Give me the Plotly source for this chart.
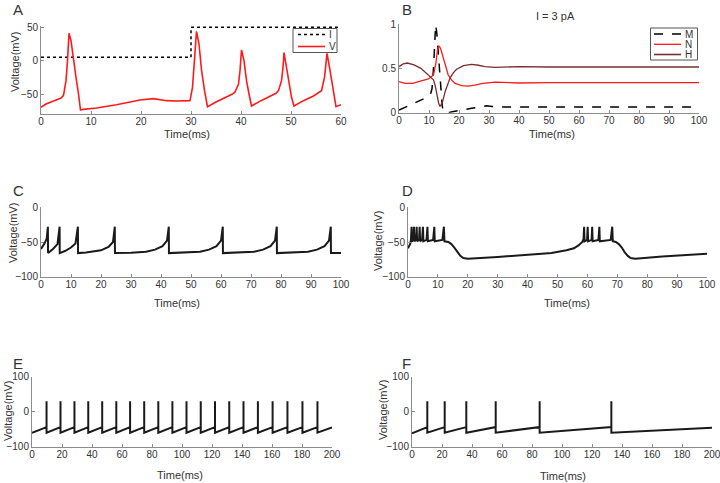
import plotly.graph_objects as go

# ---------------- Panel A data ----------------
A_I_t = [0, 30, 30, 60]
A_I_v = [5, 5, 50, 50]
A_V_t = [0, 1, 2, 3, 4, 4.5, 5.0, 5.3, 5.6, 6.0, 6.5, 7.0, 7.5, 7.9, 8.5, 11.1, 15.1, 19.8, 22.5, 25.1, 27.1,
         29.8, 30.3, 30.7, 31.1, 31.6, 32.1, 32.7, 33.3, 35, 37, 38.3, 38.8, 39.5, 39.8, 40.1, 40.6, 41.1, 41.6, 42.1,
         44, 46, 47.0, 47.5, 48.1, 48.4, 48.6, 49.1, 49.6, 50.1, 50.6,
         52.5, 54.5, 55.6, 56.1, 56.7, 57.0, 57.2, 57.7, 58.2, 58.6, 59.0, 60]
A_V_v = [-70, -65, -62, -59, -56, -52, -30, 0, 41, 30, 0, -25, -50, -74, -73, -71, -66, -59, -57, -60, -60.5,
         -60, -40, 10, 44, 25, -14, -45, -69, -62, -55, -50, -47, -35, -15, 16, 0, -30, -50, -68,
         -60, -53, -49, -45, -30, -10, 12, -10, -35, -55, -68,
         -60, -53, -48, -45, -25, -5, 11, -10, -35, -55, -69, -66]

# ---------------- Panel B data ----------------
B_M_t = [0, 2, 4, 6, 8, 9.8, 10.5, 11.0, 11.5, 12.2, 12.6, 13.1, 13.6, 14.0, 14.4, 14.8, 15.5, 17, 19, 21, 24.2, 27, 29.2, 31, 34, 40, 50, 60, 70, 80, 90, 100]
B_M_v = [0.03, 0.06, 0.09, 0.12, 0.15, 0.18, 0.21, 0.27, 0.5, 0.99, 0.9, 0.65, 0.4, 0.2, 0.08, 0.01, 0.0, 0.005, 0.015, 0.03, 0.05, 0.07, 0.078, 0.07, 0.065, 0.064, 0.064, 0.064, 0.064, 0.064, 0.064, 0.064]
B_N_t = [0, 2, 4.5, 7, 9.8, 11.5, 12.3, 12.8, 13.3, 13.9, 14.8, 15.6, 16.4, 17.5, 18.7, 20.9, 23, 25.3, 28, 32, 36, 40, 50, 60, 70, 80, 90, 100]
B_N_v = [0.35, 0.33, 0.33, 0.35, 0.38, 0.425, 0.56, 0.70, 0.755, 0.72, 0.61, 0.51, 0.425, 0.37, 0.33, 0.305, 0.30, 0.31, 0.33, 0.345, 0.34, 0.335, 0.34, 0.34, 0.34, 0.34, 0.34, 0.34]
B_H_t = [0, 1.4, 2.8, 5, 7.3, 9.8, 11.5, 12.1, 12.6, 13.2, 13.7, 14.5, 15.4, 16.2, 17.0, 18.1, 19.2, 21.5, 24.2, 26.5, 28.6, 32, 36, 40, 50, 60, 70, 80, 90, 100]
B_H_v = [0.52, 0.55, 0.56, 0.54, 0.5, 0.425, 0.37, 0.3, 0.2, 0.11, 0.07, 0.12, 0.24, 0.32, 0.39, 0.45, 0.49, 0.53, 0.545, 0.535, 0.52, 0.51, 0.515, 0.52, 0.515, 0.515, 0.515, 0.515, 0.515, 0.515]

# ---------------- Panel C data ----------------
C_t = [0, 1.2, 1.9, 2.3, 2.35, 4.0, 5.5, 6.2, 6.25, 8, 10, 11.5, 12.3, 12.35,
       15, 20, 22.5, 24.0, 24.6, 24.65,
       30, 35, 38, 40.5, 42.0, 42.6, 42.65,
       48, 53, 56, 58.5, 60.0, 60.6, 60.65,
       66, 71, 74, 76.5, 78.0, 78.6, 78.65,
       84, 89, 92, 94.5, 96.0, 96.6, 96.65, 100]
C_v = [-60, -52, -45, -28, -66, -60, -53, -28, -66, -63, -58, -52, -28, -66,
       -65, -62, -57, -50, -28, -66,
       -65.5, -64, -61, -56, -48, -28, -66,
       -65.5, -64, -61, -56, -48, -28, -66,
       -65.5, -64, -61, -56, -48, -28, -66,
       -65.5, -64, -61, -56, -48, -28, -66, -66]

# ---------------- Panel D data ----------------
D_t = [0, 0.8, 1.0, 1.2, 1.35, 1.8, 2.0, 2.15, 2.7, 2.9, 3.05, 3.7, 3.9, 4.05, 4.7, 5.0, 5.15,
       6.2, 6.5, 6.65, 8.4, 8.8, 8.95, 11.5, 12.0, 12.2,
       13.5, 14.5, 15.5, 16.5, 17.5, 18.5, 20, 30, 40, 48, 53, 55.5, 57, 58.3, 58.7, 58.9, 59.05,
       59.9, 60.1, 60.25, 61.4, 61.6, 61.75, 63.7, 64.0, 64.15, 67.8, 68.3, 68.5,
       69.5, 70.5, 71.5, 72.5, 73.5, 74.5, 76, 85, 100]
D_v = [-59, -52, -46, -28, -49, -47, -28, -49, -47, -28, -49, -47, -28, -49, -47, -28, -49,
       -47, -28, -49, -47, -28, -49, -47, -28, -49,
       -50, -53, -58, -65, -70, -73, -74, -71.5, -69, -66, -62, -59, -55, -50, -46, -28, -49,
       -47, -28, -49, -47, -28, -49, -47, -28, -49, -47, -28, -49,
       -50, -53, -58, -65, -70, -73, -74, -71, -67]

# ---------------- Panel E / F data ----------------
E_spikes = [9.7, 19.0, 28.3, 37.5, 46.8, 56.2, 65.4, 74.8, 84.2, 93.6, 103.0, 112.5, 122.0, 131.5,
            141.0, 150.6, 160.4, 170.3, 180.3, 190.3]
E_start = (0, -60)
E_end = (200, -45)
F_spikes = [10.2, 21.8, 36.2, 55.8, 85.1, 132.9]
F_start = (0, -62)
F_end = (200, -46)
SPIKE_PRE, SPIKE_PEAK, SPIKE_RESET = -44, 30, -60

X_TICKS_60 = [0, 10, 20, 30, 40, 50, 60]
X_TICKS_100 = [0, 10, 20, 30, 40, 50, 60, 70, 80, 90, 100]
X_TICKS_200 = [0, 20, 40, 60, 80, 100, 120, 140, 160, 180, 200]

LEGEND_A = ["I", "V"]
LEGEND_B = ["M", "N", "H"]


def spike_train(spikes, start, end):
    t, v = [start[0]], [start[1]]
    for s in spikes:
        t += [s, s, s]
        v += [SPIKE_PRE, SPIKE_PEAK, SPIKE_RESET]
    t.append(end[0]); v.append(end[1])
    return t, v


E_t, E_v = spike_train(E_spikes, E_start, E_end)
F_t, F_v = spike_train(F_spikes, F_start, F_end)

W, H = 720, 483
FONT = "Liberation Sans, Arial, sans-serif"
NARROW = "Liberation Sans Narrow, Arial Narrow, Liberation Sans, Arial, sans-serif"
AXC = "#8c8c8c"
TXT = "#333333"
RED = "#ff1a1a"
BROWN = "#7a2e2e"
BLK = "#1a1a1a"


def px(x):
    return x / W


def py(y):
    return 1 - y / H


def xax(dom, rng, ticks, anchor, font=FONT):
    return dict(domain=dom, range=rng, tickvals=ticks, ticks="inside", ticklen=3, tickcolor=AXC,
                showline=True, linecolor=AXC, linewidth=1, showgrid=False, zeroline=False,
                ticklabelstandoff=-2, automargin=False, ticklabeloverflow="allow",
                tickfont=dict(family=font, size=10, color=TXT), anchor=anchor, fixedrange=True)


def yax(dom, rng, ticks, anchor, font=FONT, ticktext=None):
    d = dict(domain=dom, range=rng, tickvals=ticks, ticks="inside", ticklen=3, tickcolor=AXC,
             showline=True, linecolor=AXC, linewidth=1, showgrid=False, zeroline=False, automargin=False,
             ticklabeloverflow="allow",
             tickfont=dict(family=font, size=10, color=TXT), anchor=anchor, fixedrange=True)
    if ticktext:
        d["ticktext"] = ticktext
    return d


fig = go.Figure()
fig.add_trace(go.Scatter(x=A_I_t, y=A_I_v, mode="lines", name="I", line=dict(color="black", width=1.5, dash="dot"),
                         xaxis="x", yaxis="y", showlegend=False))
fig.add_trace(go.Scatter(x=A_V_t, y=A_V_v, mode="lines", name="V", line=dict(color=RED, width=1.6),
                         xaxis="x", yaxis="y", showlegend=False))
fig.add_trace(go.Scatter(x=B_M_t, y=B_M_v, mode="lines", name="M", line=dict(color="black", width=1.5, dash="dash"),
                         xaxis="x2", yaxis="y2", showlegend=False))
fig.add_trace(go.Scatter(x=B_N_t, y=B_N_v, mode="lines", name="N", line=dict(color=RED, width=1.3),
                         xaxis="x2", yaxis="y2", showlegend=False))
fig.add_trace(go.Scatter(x=B_H_t, y=B_H_v, mode="lines", name="H", line=dict(color=BROWN, width=1.3),
                         xaxis="x2", yaxis="y2", showlegend=False))
for xa, ya, t, v in [("x3", "y3", C_t, C_v), ("x4", "y4", D_t, D_v), ("x5", "y5", E_t, E_v), ("x6", "y6", F_t, F_v)]:
    fig.add_trace(go.Scatter(x=t, y=v, mode="lines", line=dict(color=BLK, width=2), showlegend=False,
                             xaxis=xa, yaxis=ya))

fig.update_layout(
    width=W, height=H, autosize=False, margin=dict(l=0, r=0, t=0, b=0, autoexpand=False),
    paper_bgcolor="white", plot_bgcolor="white", showlegend=False,
    font=dict(family=FONT, color=TXT),
    xaxis=xax([px(41), px(341)], [0, 60], X_TICKS_60, "y"),
    yaxis=yax([py(114), py(26)], [-80, 52], [-50, 0, 50], "x"),
    xaxis2=xax([px(399), px(699)], [0, 100], X_TICKS_100, "y2"),
    yaxis2=yax([py(112.7), py(24)], [0, 1], [0, 0.5, 1], "x2", ticktext=["0", "0.5", "1"]),
    xaxis3=xax([px(41), px(341)], [0, 100], X_TICKS_100, "y3"),
    yaxis3=yax([py(276.7), py(207.3)], [-100, 0], [-100, -50, 0], "x3"),
    xaxis4=xax([px(408), px(707)], [0, 100], X_TICKS_100, "y4"),
    yaxis4=yax([py(276.7), py(207.3)], [-100, 0], [-100, -50, 0], "x4"),
    xaxis5=xax([px(32), px(332)], [0, 200], X_TICKS_200, "y5", font=NARROW),
    yaxis5=yax([py(446.7), py(376.7)], [-100, 100], [-100, 0, 100], "x5", font=NARROW),
    xaxis6=xax([px(412), px(712)], [0, 200], X_TICKS_200, "y6", font=NARROW),
    yaxis6=yax([py(446.7), py(376.7)], [-100, 100], [-100, 0, 100], "x6", font=NARROW),
)

ann = []
shapes = []


def text(x, y, s, size=11, angle=0, anchor="center"):
    ann.append(dict(x=px(x), y=py(y), xref="paper", yref="paper", text=s, showarrow=False,
                    xanchor=anchor, yanchor="middle", textangle=angle,
                    font=dict(family=FONT, size=size, color=TXT)))


def legend_box(x0, y0, x1, y1, names, styles, rows, lx0, lx1, tx):
    shapes.append(dict(type="rect", xref="paper", yref="paper", x0=px(x0), x1=px(x1), y0=py(y1), y1=py(y0),
                       line=dict(color="#555555", width=1), fillcolor="white", layer="above"))
    for name, st, ry in zip(names, styles, rows):
        shapes.append(dict(type="line", xref="paper", yref="paper", x0=px(lx0), x1=px(lx1), y0=py(ry), y1=py(ry),
                           line=st, layer="above"))
        text(tx, ry, name, size=10, anchor="left")


legend_box(293, 28.5, 337, 52.5, LEGEND_A,
           [dict(color="black", width=1.5, dash="dot"), dict(color=RED, width=1.6)],
           [34.5, 46.5], 298, 325, 327)
legend_box(650.5, 28, 697.5, 60, LEGEND_B,
           [dict(color="black", width=1.5, dash="dash"), dict(color=RED, width=1.3), dict(color=BROWN, width=1.6)],
           [34, 44.3, 54.5], 654, 681, 683)

for lab, x, y in [("A", 18, 9), ("B", 407, 9), ("C", 18.5, 190), ("D", 407, 190), ("E", 18, 363), ("F", 406, 363)]:
    text(x, y, lab, size=15)
for x, y in [(187, 134), (552, 134), (177, 303), (567, 303), (180, 475), (563, 476)]:
    text(x, y, "Time(ms)", size=11)
for x, y in [(15, 62), (13, 233), (378, 241), (8, 411), (383, 410)]:
    text(x, y, "Voltage(mV)", size=11, angle=-90)
text(555, 16, "I = 3 pA", size=11)
fig.update_layout(annotations=ann, shapes=shapes)

fig.write_html("out.html", config={"displayModeBar": False},
               post_script="document.body.style.margin='0';document.body.style.padding='0';document.body.style.overflow='hidden';")
